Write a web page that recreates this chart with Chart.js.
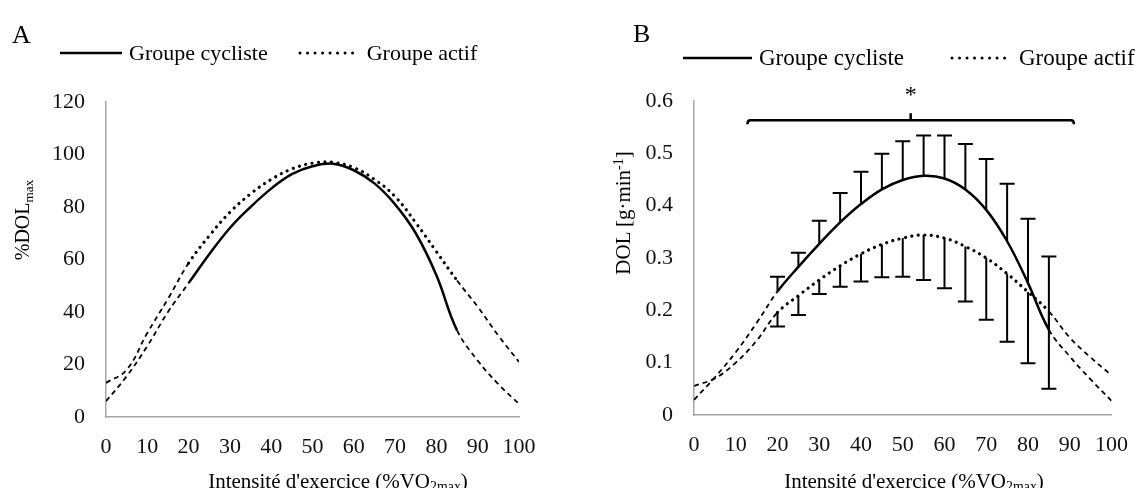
<!DOCTYPE html>
<html lang="fr">
<head>
<meta charset="utf-8">
<script src="https://cdn.jsdelivr.net/npm/chart.js@4.4.1/dist/chart.umd.min.js"></script>
<style>
  html, body { margin: 0; padding: 0; background: #fff; }
  body {
    width: 1145px; height: 488px; position: relative; overflow: hidden;
    font-family: "Liberation Serif", "Times New Roman", serif; color: #000;
  }
  canvas { position: absolute; top: 0; }
  #chartA { left: 0; }
  #chartB { left: 572px; }
  .txt { position: absolute; white-space: nowrap; line-height: 1; }
  .center { transform: translate(-50%, -50%); }
  .rot { transform: translate(-50%, -50%) rotate(-90deg); }
  .letter { font-size: 26px; }
  .axis-title { font-size: 21px; }
  sub { font-size: 0.66em; vertical-align: -0.28em; line-height: 0; }
  sup { font-size: 0.66em; vertical-align: 0.45em; line-height: 0; }
  .legend { position: absolute; display: flex; align-items: center; font-size: 22px; white-space: nowrap; }
  .legend svg { display: block; margin-right: 7px; }
  .legend .item { display: flex; align-items: center; margin-right: 30px; }
</style>
</head>
<body>
<canvas id="chartA" width="560" height="488"></canvas>
<canvas id="chartB" width="573" height="488"></canvas>

<div class="txt letter" style="left:12px; top:22px;">A</div>
<div class="txt letter" style="left:633px; top:21px;">B</div>

<div class="legend" style="left:60px; top:40px;">
  <div class="item">
    <svg width="62" height="10"><line x1="0" y1="5" x2="62" y2="5" stroke="#000" stroke-width="2.5"/></svg>
    <span>Groupe cycliste</span>
  </div>
  <div class="item">
    <svg width="62" height="10"><line x1="2" y1="5" x2="62" y2="5" stroke="#000" stroke-width="3" stroke-linecap="round" stroke-dasharray="0.01 7.5"/></svg>
    <span>Groupe actif</span>
  </div>
</div>
<div class="legend" style="left:683px; top:45px; font-size:23px;">
  <div class="item" style="margin-right:46px;">
    <svg width="69" height="10"><line x1="0" y1="5" x2="69" y2="5" stroke="#000" stroke-width="2.5"/></svg>
    <span>Groupe cycliste</span>
  </div>
  <div class="item">
    <svg width="62" height="10"><line x1="2" y1="5" x2="62" y2="5" stroke="#000" stroke-width="3" stroke-linecap="round" stroke-dasharray="0.01 7.5"/></svg>
    <span>Groupe actif</span>
  </div>
</div>

<div class="txt axis-title rot" style="left:22px; top:220px; font-size:20px;">%DOL<sub>max</sub></div>
<div class="txt axis-title rot" style="left:623px; top:213px;">DOL [g·min<sup>-1</sup>]</div>
<div class="txt axis-title center" style="left:338px; top:481px;">Intensité d'exercice (%VO<sub>2max</sub>)</div>
<div class="txt axis-title center" style="left:914px; top:481px;">Intensité d'exercice (%VO<sub>2max</sub>)</div>

<script>
// intensité (%VO2max), même grille pour les deux panneaux
const intensity = [0, 5, 10, 15, 20, 25, 30, 35, 40, 45, 50, 55, 60, 65, 70, 75, 80, 85, 90, 95, 100];

// A : %DOLmax
const pctCycliste = [6, 15.5, 27, 40, 51, 62, 72, 80, 87, 92.5, 95.5, 96.5, 94, 89, 81, 70, 54, 33, 21.5, 12.5, 5];
const pctActif    = [13, 18, 32, 45, 58.6, 69, 78, 85, 90.5, 94.5, 96.7, 97, 95, 90.5, 84, 74, 63, 52, 42, 31, 21];

// B : DOL en g/min
const dolCycliste = [0.029, 0.072, 0.12, 0.176, 0.236, 0.283, 0.327, 0.368, 0.403, 0.431, 0.449, 0.457, 0.452, 0.431, 0.392, 0.332, 0.252, 0.163, 0.112, 0.068, 0.027];
const dolActif    = [0.0555, 0.07, 0.10, 0.142, 0.196, 0.228, 0.258, 0.285, 0.308, 0.326, 0.338, 0.344, 0.338, 0.322, 0.3, 0.27, 0.235, 0.198, 0.148, 0.11, 0.076];

// écarts-types (mesures de 20 à 85 %)
const sdX        = [20, 25, 30, 35, 40, 45, 50, 55, 60, 65, 70, 75, 80, 85];
const sdCycliste = [0.028, 0.027, 0.044, 0.056, 0.062, 0.068, 0.074, 0.077, 0.082, 0.087, 0.097, 0.110, 0.123, 0.140];
const sdActif    = [0.027, 0.037, 0.027, 0.040, 0.053, 0.063, 0.074, 0.086, 0.096, 0.105, 0.118, 0.130, 0.136, 0.148];

const xTicks = [0, 10, 20, 30, 40, 50, 60, 70, 80, 90, 100];
const measuredRange = [20, 85];   // hors de cette plage : extrapolation en tirets
const signifRange = [12.8, 91];   // accolade de significativité

const tickFont = { family: "'Liberation Serif', 'Times New Roman', serif", size: 22 };
const DASH = [5, 4];
const DOTS = [0.01, 6.5];

function toPoints(ys) {
  return ys.map((y, i) => ({ x: intensity[i], y: y }));
}

function outside(c) {
  return c.p0.parsed.x < measuredRange[0] || c.p1.parsed.x > measuredRange[1];
}

function curve(label, ys, dotted) {
  return {
    label: label,
    data: toPoints(ys),
    borderColor: "#000",
    borderWidth: dotted ? 3.2 : 2.5,
    borderDash: dotted ? DOTS : [],
    borderCapStyle: dotted ? "round" : "butt",
    pointRadius: 0,
    tension: 0.4,
    fill: false,
    segment: {
      borderDash: (c) => (outside(c) ? DASH : dotted ? DOTS : []),
      borderWidth: (c) => (outside(c) ? 1.8 : dotted ? 3.2 : 2.5),
      borderCapStyle: (c) => (outside(c) ? "butt" : dotted ? "round" : "butt"),
    },
  };
}

function axes(yMax, yStep, yWidth, xHeight) {
  return {
    x: {
      type: "linear",
      min: 0,
      max: 100,
      afterBuildTicks: (s) => { s.ticks = xTicks.map((v) => ({ value: v })); },
      ticks: { color: "#111", font: tickFont, padding: 17, maxRotation: 0 },
      grid: { display: false, drawTicks: false },
      border: { color: "#a6a6a6", width: 1.5 },
      afterFit: (s) => { s.height = xHeight; },
    },
    y: {
      min: 0,
      max: yMax,
      ticks: { stepSize: yStep, color: "#111", font: tickFont, padding: 21 },
      grid: { display: false, drawTicks: false },
      border: { color: "#a6a6a6", width: 1.5 },
      afterFit: (s) => { s.width = yWidth; },
    },
  };
}

// barres d'erreur : cycliste vers le haut, actif vers le bas
const errorBars = {
  id: "errorBars",
  afterDatasetsDraw(chart) {
    const { ctx } = chart;
    const x = chart.scales.x, y = chart.scales.y;
    const groups = [
      { mean: dolCycliste, sd: sdCycliste, dir: 1 },
      { mean: dolActif, sd: sdActif, dir: -1 },
    ];
    ctx.save();
    ctx.strokeStyle = "#000";
    ctx.lineWidth = 2;
    groups.forEach((g) => {
      sdX.forEach((xv, i) => {
        const m = g.mean[intensity.indexOf(xv)];
        const px = x.getPixelForValue(xv);
        const y0 = y.getPixelForValue(m);
        const y1 = y.getPixelForValue(m + g.dir * g.sd[i]);
        ctx.beginPath();
        ctx.moveTo(px, y0);
        ctx.lineTo(px, y1);
        ctx.moveTo(px - 7.5, y1);
        ctx.lineTo(px + 7.5, y1);
        ctx.stroke();
      });
    });
    ctx.restore();
  },
};

// accolade + astérisque au-dessus des courbes
const signifBracket = {
  id: "signifBracket",
  afterDatasetsDraw(chart) {
    const { ctx } = chart;
    const x = chart.scales.x, y = chart.scales.y;
    const x0 = x.getPixelForValue(signifRange[0]);
    const x1 = x.getPixelForValue(signifRange[1]);
    const xm = (x0 + x1) / 2;
    const yb = y.getPixelForValue(0.563);
    ctx.save();
    ctx.strokeStyle = "#000";
    ctx.lineWidth = 2.5;
    ctx.beginPath();
    ctx.moveTo(x0, yb + 4);
    ctx.quadraticCurveTo(x0, yb, x0 + 3, yb);
    ctx.lineTo(x1 - 3, yb);
    ctx.quadraticCurveTo(x1, yb, x1, yb + 4);
    ctx.moveTo(xm, yb);
    ctx.lineTo(xm, yb - 7);
    ctx.stroke();
    ctx.fillStyle = "#000";
    ctx.font = "24px 'Liberation Serif', serif";
    ctx.textAlign = "center";
    ctx.textBaseline = "middle";
    ctx.fillText("*", xm, y.getPixelForValue(0.61));
    ctx.restore();
  },
};

const common = {
  responsive: false,
  animation: false,
  plugins: { legend: { display: false }, tooltip: { enabled: false } },
};

new Chart(document.getElementById("chartA"), {
  type: "line",
  data: {
    datasets: [
      curve("Groupe cycliste", pctCycliste, false),
      curve("Groupe actif", pctActif, true),
    ],
  },
  options: {
    ...common,
    layout: { padding: { left: 0, top: 102, right: 41, bottom: 0 } },
    scales: axes(120, 20, 106, 71),
  },
});

new Chart(document.getElementById("chartB"), {
  type: "line",
  data: {
    datasets: [
      curve("Groupe cycliste", dolCycliste, false),
      curve("Groupe actif", dolActif, true),
    ],
  },
  options: {
    ...common,
    layout: { padding: { left: 0, top: 101, right: 20, bottom: 0 } },
    scales: axes(0.6, 0.1, 122, 73),
  },
  plugins: [errorBars, signifBracket],
});
</script>
</body>
</html>
